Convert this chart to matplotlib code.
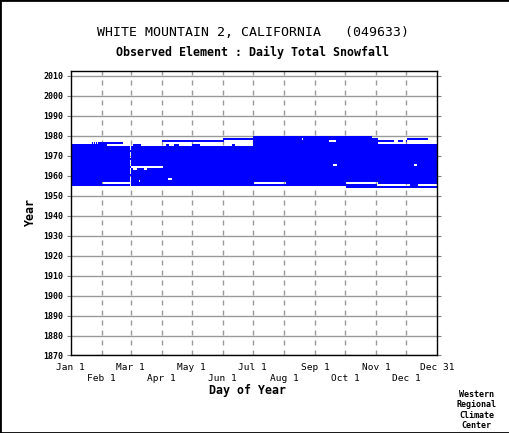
import numpy as np
import matplotlib
matplotlib.use('Agg')
import matplotlib.pyplot as plt
from matplotlib.colors import ListedColormap
from matplotlib.patches import Rectangle

# years shown in the coverage grid and the days of a 366-day year
years = np.arange(1954, 1980)
first_full_year = 1955
last_full_year = 1975

# (year, first day, last day) runs with data outside the full years
present_runs = [
    (1954, 275, 366),
    (1976, 22, 22), (1976, 24, 24), (1976, 26, 26), (1976, 28, 52),
    (1976, 183, 306),
    (1977, 92, 153), (1977, 183, 322), (1977, 327, 331), (1977, 335, 335),
    (1978, 153, 306), (1978, 336, 356),
    (1979, 183, 300),
]

# (year, first day, last day) runs with no data
missing_runs = [
    (1955, 306, 338), (1955, 347, 366),
    (1956, 32, 60), (1956, 184, 214), (1956, 275, 306),
    (1957, 69, 69),
    (1958, 98, 101),
    (1963, 63, 66), (1963, 74, 76),
    (1964, 61, 92),
    (1965, 262, 265), (1965, 343, 345),
    (1975, 37, 62), (1975, 71, 95), (1975, 99, 103), (1975, 109, 121),
    (1975, 130, 161), (1975, 165, 182),
    (1977, 258, 264),
    (1978, 231, 231),
]

month_days = [0, 31, 60, 91, 121, 152, 182, 213, 244, 274, 305, 335, 366]
month_labels = ['Jan 1', 'Feb 1', 'Mar 1', 'Apr 1', 'May 1', 'Jun 1', 'Jul 1',
                'Aug 1', 'Sep 1', 'Oct 1', 'Nov 1', 'Dec 1', 'Dec 31']
year_ticks = np.arange(1870, 2011, 10)

# build the coverage grid
have = np.zeros((len(years), 366), dtype=bool)
for y in range(first_full_year, last_full_year + 1):
    have[y - years[0], :] = True
for y, d0, d1 in present_runs:
    have[y - years[0], d0 - 1:d1] = True
for y, d0, d1 in missing_runs:
    have[y - years[0], d0 - 1:d1] = False
# Feb 29 (day 60) only exists in leap years
for i, y in enumerate(years):
    if y % 4 != 0:
        have[i, 59] = False

mono = 'DejaVu Sans Mono'
fig = plt.figure(figsize=(5.1, 4.33), dpi=100)
ax = fig.add_axes([0.1386, 0.179, 0.7183, 0.6577])

grid = np.ma.masked_where(~have, np.ones(have.shape))
ax.imshow(grid, extent=(0, 366, years[0], years[-1] + 1), origin='lower',
          aspect='auto', interpolation='nearest',
          cmap=ListedColormap(['#0000ff']), zorder=2)

ax.set_xlim(0, 366)
ax.set_ylim(1870, 2012.5)

for d in month_days[1:-1]:
    ax.axvline(d, color='#999999', lw=1, ls=(0, (3.6, 3.6)), zorder=1)
for y in year_ticks:
    ax.axhline(y, color='#999999', lw=1, zorder=1)

ax.set_xticks(month_days)
ax.set_xticklabels([('\n' if i % 2 else '') + s for i, s in enumerate(month_labels)],
                   family=mono, fontsize=6.8)
ax.tick_params(axis='x', length=0, pad=5.5)
ax.set_yticks(year_ticks)
ax.set_yticklabels([str(y) for y in year_ticks], family=mono, fontsize=6,
                   fontweight='bold')
ax.tick_params(axis='y', left=True, right=True, direction='out', length=3,
               color='#808080', pad=2)
for s in ax.spines.values():
    s.set_color('black')
    s.set_linewidth(1)

fig.text(0.496, 0.924, 'WHITE MOUNTAIN 2, CALIFORNIA   (049633)', family=mono,
         fontsize=9.5, ha='center', va='center')
fig.text(0.496, 0.880, 'Observed Element : Daily Total Snowfall', family=mono,
         fontsize=8.4, fontweight='bold', ha='center', va='center')
fig.text(0.486, 0.099, 'Day of Year', family=mono, fontsize=8.4,
         fontweight='bold', ha='center', va='center')
fig.text(0.059, 0.51, 'Year', family=mono, fontsize=8.4, fontweight='bold',
         rotation=90, ha='center', va='center')
fig.text(0.935, 0.100, 'Western\nRegional\nClimate\nCenter', family=mono,
         fontsize=6, fontweight='bold', ha='center', va='top', linespacing=1.2)

fig.add_artist(Rectangle((0, 0), 1, 1, transform=fig.transFigure, fill=False,
                         edgecolor='black', lw=2))

fig.savefig('out.png', dpi=100)
